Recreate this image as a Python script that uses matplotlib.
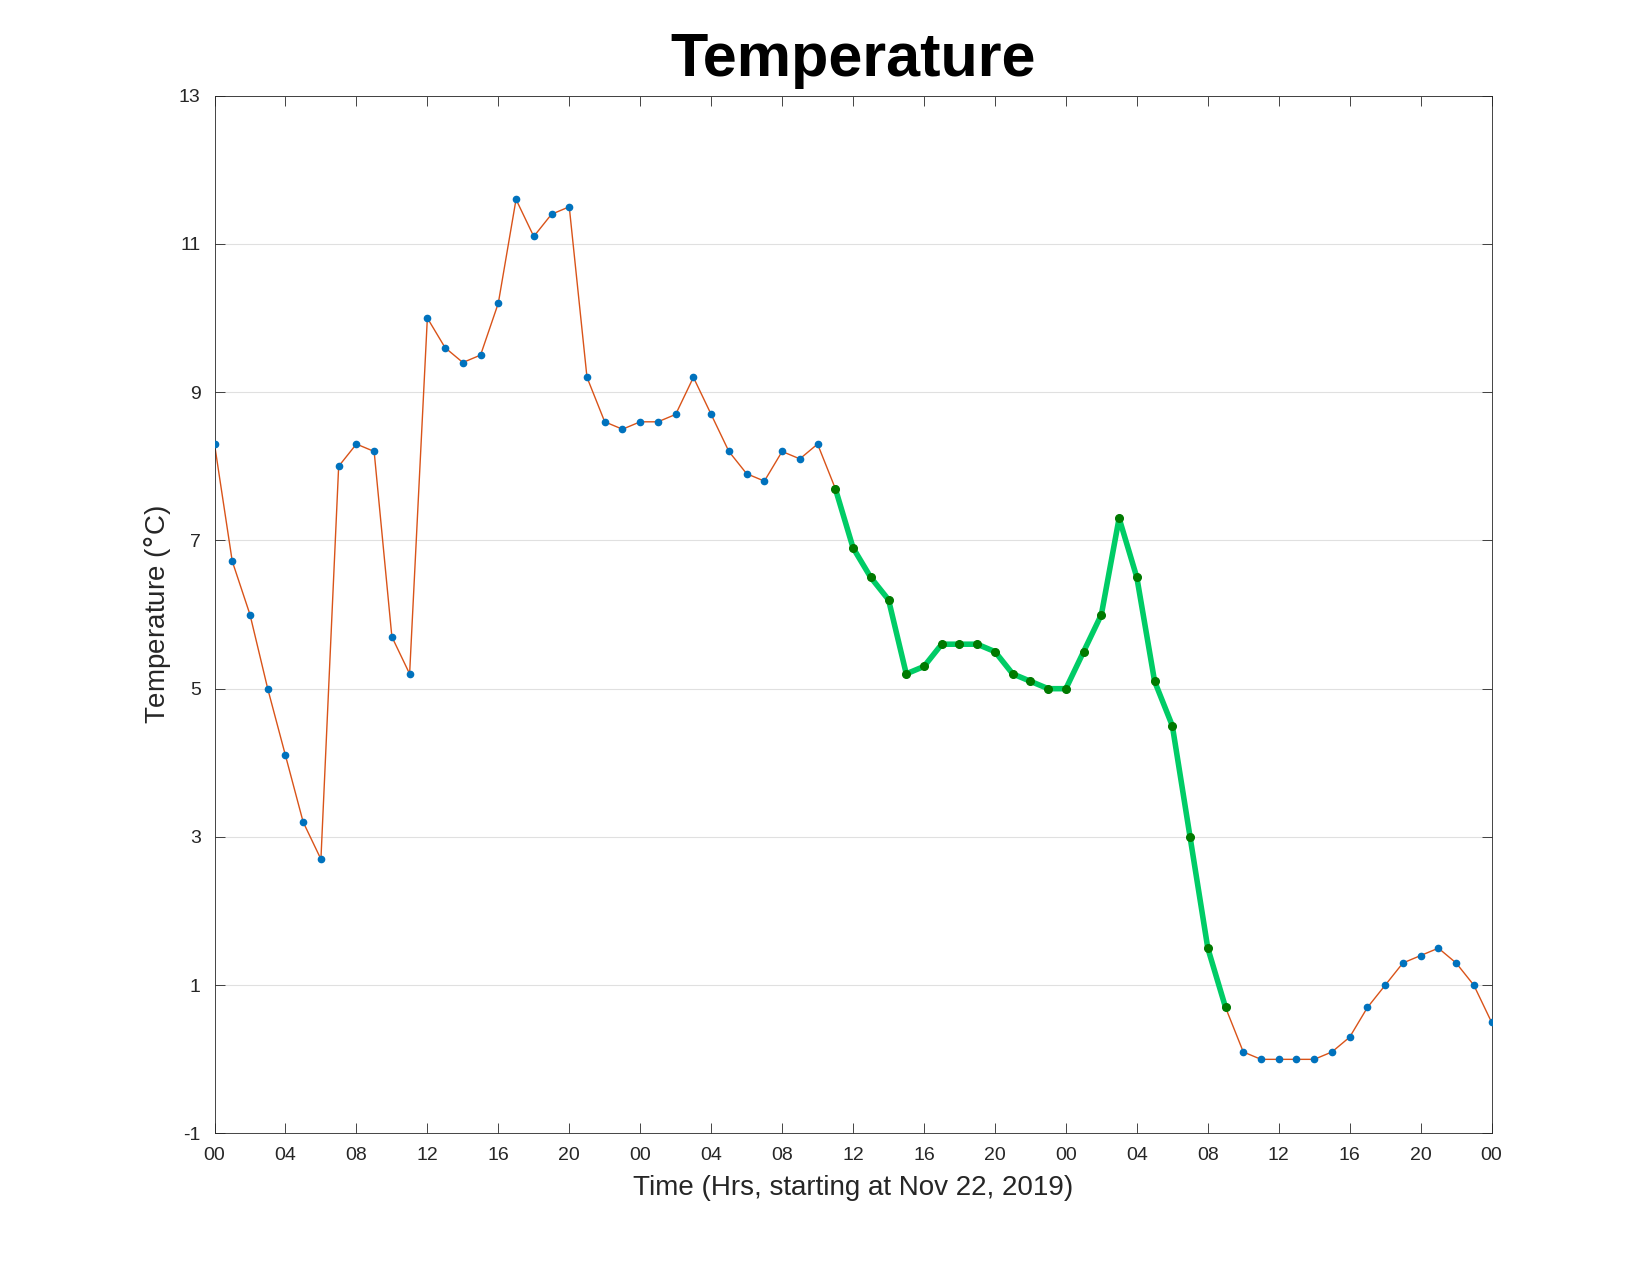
import matplotlib
matplotlib.use("Agg")
import matplotlib.pyplot as plt
import numpy as np

plt.rcParams['font.family'] = ['Liberation Sans', 'DejaVu Sans']
plt.rcParams['axes.unicode_minus'] = False

# hourly temperatures, starting Nov 22 2019 00:00
temps = [8.3, 6.72, 6.0, 5.0, 4.1, 3.2, 2.7, 8.0, 8.3, 8.2, 5.7, 5.2,
         10.0, 9.6, 9.4, 9.5, 10.2, 11.6, 11.1, 11.4, 11.5, 9.2, 8.6, 8.5,
         8.6, 8.6, 8.7, 9.2, 8.7, 8.2, 7.9, 7.8, 8.2, 8.1, 8.3, 7.7,
         6.9, 6.5, 6.2, 5.2, 5.3, 5.6, 5.6, 5.6, 5.5, 5.2, 5.1, 5.0,
         5.0, 5.5, 6.0, 7.3, 6.5, 5.1, 4.5, 3.0, 1.5, 0.7, 0.1, 0.0,
         0.0, 0.0, 0.0, 0.1, 0.3, 0.7, 1.0, 1.3, 1.4, 1.5, 1.3, 1.0, 0.5]
hours = np.arange(len(temps))
hl_start, hl_end = 35, 57  # highlighted segment (inclusive)
xtick_labels = ['00', '04', '08', '12', '16', '20'] * 3 + ['00']
yticks = [-1, 1, 3, 5, 7, 9, 11, 13]

fig = plt.figure(figsize=(16.5, 12.75), dpi=100)
ax = fig.add_axes([0.130, 0.111, 0.774, 0.814])

ax.plot(hours, temps, color='#D95319', lw=1.0, zorder=2)
ax.plot(hours, temps, ls='none', marker='o', ms=4.5, color='#0072BD', zorder=3)
seg = slice(hl_start, hl_end + 1)
ax.plot(hours[seg], np.array(temps)[seg], color='#00CC66', lw=4, zorder=4)
ax.plot(hours[seg], np.array(temps)[seg], ls='none', marker='o', ms=5.5,
        color='#007A00', zorder=5)

ax.set_xlim(0, 72)
ax.set_ylim(-1, 13)
ax.set_xticks(np.arange(0, 73, 4))
ax.set_xticklabels(xtick_labels)
ax.set_yticks(yticks)
ax.yaxis.grid(True, color='#e0e0e0', lw=0.8)
ax.set_axisbelow(True)
ax.tick_params(direction='in', top=True, right=True, labelsize=14, length=7,
               width=0.6, colors='#262626', pad=10)
for s in ax.spines.values():
    s.set_linewidth(0.6)
    s.set_color('#262626')

ax.set_xlabel('Time (Hrs, starting at Nov 22, 2019)', fontsize=20, color='#262626',
              labelpad=8)
ax.set_ylabel('Temperature ($\\degree$C)', fontsize=20, color='#262626')
ax.set_title('Temperature', fontsize=44, fontweight='bold', pad=14)

fig.savefig('out.png', dpi=100)
